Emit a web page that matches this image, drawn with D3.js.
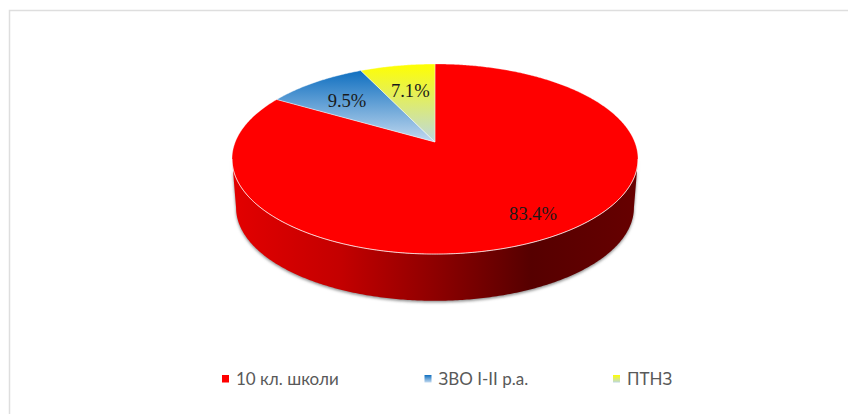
<!DOCTYPE html>
<html>
<head>
<meta charset="utf-8">
<script src="https://d3js.org/d3.v7.min.js"></script>
<style>
	html,body{margin:0;padding:0;background:#fff;}
	svg{display:block;}
	.lab{font-family:"Liberation Serif",serif;font-size:18.6px;fill:#1a1a1a;text-anchor:middle;}
	.leg{font-family:Lato,"Open Sans",sans-serif;font-size:17px;fill:#595959;}
</style>
</head>
<body>
<div id="chart"></div>
<script>
var categories = ["10 кл. школи","ЗВО І-ІІ р.а.","ПТНЗ"];
var shares = [83.4,9.5,7.1];
var shareLabels = ["83.4%","9.5%","7.1%"];

(function pieChart(){
	var svg = d3.select("#chart")
		.append('svg')
		.attr('width',848)
		.attr('height',414);
	var defs = svg.append('defs');

	// frame, only top and left show in the picture
	svg.append('path')
		.attr('d','M848,10.5H9.5V414')
		.attr('fill','none')
		.attr('stroke','#dedede')
		.attr('stroke-width',1.5);

	// the top face is a tilted circle: far side shrinks, near side grows
	var persp = 0.179;
	var cx = 435, cy = 142, depth = 49, baseScale = 0.98;
	var xs = d3.scaleLinear().domain([-1,1]).range([cx-199.7,cx+199.7]);
	var ys = d3.scaleLinear().domain([-1,1]).range([cy+92,cy-92]);

	function project(angle,r,drop,scale){
		r = r===undefined ? 1 : r;
		drop = drop || 0;
		scale = scale || 1;
		var w = 1+persp*r*Math.cos(angle);
		var px = r*Math.sin(angle)/w;
		var py = r*Math.cos(angle)/w;
		return [cx+(xs(px)-cx)*scale, cy+drop+(ys(py)-cy)*scale];
	}

	var pie = d3.pie().sort(null).value(function(d){return d});
	var arcs = pie(shares);
	var line = d3.line();

	function rimPoints(a0,a1,drop,scale){
		var n = Math.max(2,Math.ceil((a1-a0)/0.01));
		return d3.range(n+1).map(function(i){
			return project(a0+(a1-a0)*i/n,1,drop,scale);
		});
	}

	// side wall, between the two silhouette angles
	var sideFrom = Math.acos(-persp), sideTo = 2*Math.PI-sideFrom;
	var wall = rimPoints(sideFrom,sideTo,0,1)
		.concat(rimPoints(sideFrom,sideTo,depth,baseScale).reverse());

	var wallGrad = defs.append('linearGradient')
		.attr('id','wall')
		.attr('gradientUnits','userSpaceOnUse')
		.attr('x1',cx-200).attr('x2',cx+200).attr('y1',0).attr('y2',0);
	[[0,'#e20000'],[0.26,'#c40000'],[0.5,'#8e0000'],[0.74,'#560000'],[1,'#660000']].forEach(function(s){
		wallGrad.append('stop').attr('offset',s[0]).attr('stop-color',s[1]);
	});

	var blur = defs.append('filter')
		.attr('id','soft')
		.attr('x','-10%').attr('y','-10%').attr('width','120%').attr('height','120%');
	blur.append('feGaussianBlur').attr('stdDeviation',1.6);

	svg.append('path')
		.attr('d',line(wall)+'Z')
		.attr('fill','#8a8a8a')
		.attr('filter','url(#soft)')
		.attr('transform','translate(0,1.5)');

	svg.append('path')
		.attr('d',line(wall)+'Z')
		.attr('fill','url(#wall)');

	// top face fills
	var sliceFills = ['#ff0000',null,null];
	var gradStops = [null,['#0f6fc0','#c2d9ef'],['#ffff00','#bcd8e0']];
	gradStops.forEach(function(g,i){
		if (!g) return;
		var lg = defs.append('linearGradient')
			.attr('id','slice'+i)
			.attr('x1',0).attr('x2',0).attr('y1',0).attr('y2',1);
		lg.append('stop').attr('offset',0).attr('stop-color',g[0]);
		lg.append('stop').attr('offset',1).attr('stop-color',g[1]);
	});

	svg.selectAll('path.slice')
		.data(arcs)
		.enter()
		.append('path')
		.attr('class','slice')
		.attr('d',function(d){
			return line([[cx,cy]].concat(rimPoints(d.startAngle,d.endAngle,0,1)))+'Z';
		})
		.attr('fill',function(d,i){return sliceFills[i] || 'url(#slice'+i+')'})
		.attr('stroke','#fff')
		.attr('stroke-opacity',function(d,i){return i===0 ? 0.35 : 0.55})
		.attr('stroke-width',0.8)
		.attr('stroke-linejoin','round');

	// light edge along the front of the top face
	svg.append('path')
		.attr('d',line(rimPoints(sideFrom,sideTo,0,1)))
		.attr('fill','none')
		.attr('stroke','#fff')
		.attr('stroke-opacity',0.65)
		.attr('stroke-width',1);

	var labelRadius = [0.84,0.72,0.62];
	var labelNudge = [[2,-6],[1,3],[0,-1]];
	svg.selectAll('text.lab')
		.data(arcs)
		.enter()
		.append('text')
		.attr('class','lab')
		.text(function(d,i){return shareLabels[i]})
		.attr('x',function(d,i){return project((d.startAngle+d.endAngle)/2,labelRadius[i])[0]+labelNudge[i][0]})
		.attr('y',function(d,i){return project((d.startAngle+d.endAngle)/2,labelRadius[i])[1]+labelNudge[i][1]})
		.attr('dy','0.35em');

	// legend
	var legendX = [222,424.5,613];
	var keyGrads = [null,'#slice1','#slice2'];
	var leg = svg.selectAll('g.legitem')
		.data(categories)
		.enter()
		.append('g')
		.attr('class','legitem')
		.attr('transform',function(d,i){return 'translate('+legendX[i]+',375)'});
	leg.append('rect')
		.attr('width',7)
		.attr('height',7.5)
		.attr('fill',function(d,i){return keyGrads[i] ? 'url('+keyGrads[i]+')' : sliceFills[i]});
	leg.append('text')
		.attr('class','leg')
		.attr('x',14)
		.attr('y',10)
		.text(function(d){return d});
})();
</script>
</body>
</html>
